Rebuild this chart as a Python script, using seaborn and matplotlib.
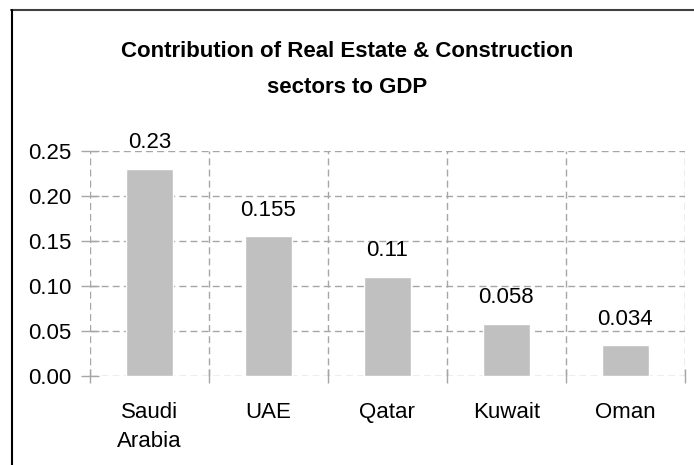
import matplotlib
matplotlib.use("Agg")
import matplotlib.pyplot as plt
from matplotlib.lines import Line2D
from matplotlib.ticker import MultipleLocator
import seaborn as sns

countries = ["Saudi\nArabia", "UAE", "Qatar", "Kuwait", "Oman"]
shares = [0.23, 0.155, 0.11, 0.058, 0.034]
y_ticks = [0.00, 0.05, 0.10, 0.15, 0.20, 0.25]

sns.set_style("white")
plt.rcParams["font.family"] = ["Liberation Sans", "DejaVu Sans"]
plt.rcParams["text.color"] = "black"

fig = plt.figure(figsize=(6.94, 4.65), dpi=100)
ax = fig.add_axes([0.1297, 0.1914, 0.857, 0.4839])

sns.barplot(x=countries, y=shares, color="#c0c0c0", saturation=1,
            width=0.4, ax=ax)

# value labels above bars
for i, v in enumerate(shares):
    ax.annotate(str(v), (i, v), xytext=(0, 19), textcoords="offset points",
                ha="center", va="center", fontsize=16, color="black")

ax.set_ylim(0, 0.25)
ax.set_xlim(-0.5, len(countries) - 0.5)
ax.set_yticks(y_ticks)
ax.set_yticklabels([f"{t:.2f}" for t in y_ticks])
ax.xaxis.set_minor_locator(MultipleLocator(1, offset=0.5))
for s in ax.spines.values():
    s.set_visible(False)

grid_kw = dict(color="#a6a6a6", linestyle=(0, (5, 3)), linewidth=1)
ax.grid(True, axis="y", which="major", **grid_kw)
ax.grid(True, axis="x", which="minor", **grid_kw)
ax.grid(False, axis="x", which="major")
ax.set_axisbelow(True)

ax.tick_params(axis="y", which="major", direction="inout", length=13,
               width=1, color="#a6a6a6", labelcolor="black", labelsize=16,
               pad=7, left=True)
ax.tick_params(axis="x", which="major", length=0, labelsize=16, pad=19,
               labelcolor="black")
ax.tick_params(axis="x", which="minor", direction="inout", length=10,
               width=1, color="#a6a6a6", bottom=True)
for lab in ax.get_xticklabels():
    lab.set_linespacing(1.5)

fig.text(0.5, 0.851, "Contribution of Real Estate & Construction\nsectors to GDP",
         ha="center", va="center", fontsize=16, fontweight="bold",
         linespacing=1.95, color="black")

# chart frame (top and left edges)
fig.add_artist(Line2D([11 / 694, 1], [1 - 10.5 / 465] * 2, color="#404040",
                      linewidth=1.5, transform=fig.transFigure))
fig.add_artist(Line2D([11.5 / 694] * 2, [0, 1 - 10.5 / 465], color="black",
                      linewidth=1.5, transform=fig.transFigure))

fig.savefig("out.png", dpi=100)
